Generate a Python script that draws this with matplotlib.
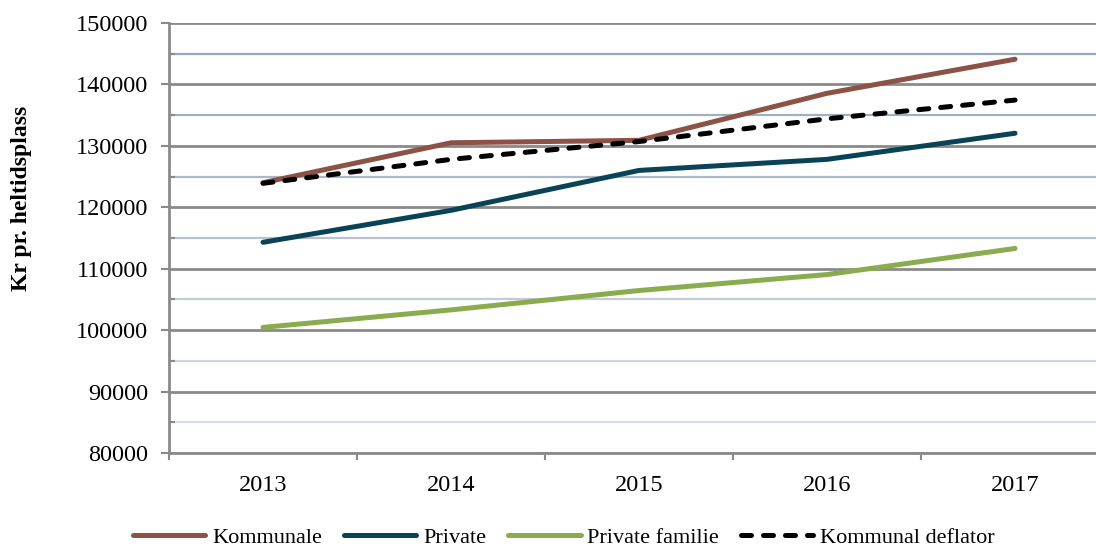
import matplotlib
matplotlib.use("Agg")
import matplotlib.pyplot as plt
import numpy as np
from matplotlib.colors import to_rgb
from matplotlib.ticker import MultipleLocator, FixedLocator, NullFormatter

plt.rcParams["font.family"] = ["Liberation Serif", "DejaVu Serif"]

years = ["2013", "2014", "2015", "2016", "2017"]
kommunale = [124000, 130500, 130900, 138550, 144100]
private = [114300, 119500, 126000, 127800, 132050]
private_familie = [100450, 103300, 106450, 109050, 113300]
kommunal_deflator = [123900, 127800, 130700, 134400, 137450]

fig = plt.figure(figsize=(10.96, 5.47), dpi=100)
ax = fig.add_axes([0.1542, 0.1718, 0.8577, 0.7862])

x = np.arange(len(years))
lw = 3.6
ax.plot(x, kommunale, color="#8c5246", lw=lw, solid_capstyle="round", label="Kommunale", zorder=3)
ax.plot(x, private, color="#0a4357", lw=lw, solid_capstyle="round", label="Private", zorder=3)
ax.plot(x, private_familie, color="#8bab4f", lw=lw, solid_capstyle="round", label="Private familie", zorder=3)
ax.plot(x, kommunal_deflator, color="black", lw=lw, dashes=(2.0, 2.4), dash_capstyle="round",
        label="Kommunal deflator", zorder=4)

ax.set_xlim(-0.5, 4.5)
ax.set_ylim(80000, 150000)

# y axis: major grid every 10000, minor every 5000
ax.yaxis.set_major_locator(MultipleLocator(10000))
ax.yaxis.set_minor_locator(MultipleLocator(5000))
ax.grid(True, axis="y", which="major", color="#8a8a8a", lw=2.0, zorder=1)
ax.grid(True, axis="y", which="minor", lw=1.6, zorder=1)
top_c = np.array(to_rgb("#8ea2b4"))
bot_c = np.array(to_rgb("#dde3e8"))
minor_vals = ax.yaxis.get_minorticklocs()
for tick, v in zip(ax.yaxis.get_minor_ticks(), minor_vals):
    t = (v - 80000) / 70000
    tick.gridline.set_color(tuple(bot_c + (top_c - bot_c) * t))

ax.tick_params(axis="y", which="major", direction="out", length=6, width=1.5, color="#8a8a8a",
               pad=9, labelsize=17.5)
ax.tick_params(axis="y", which="minor", direction="in", length=4, width=1.5, color="#8a8a8a")

# x axis: ticks on category boundaries, labels in centers
ax.xaxis.set_major_locator(FixedLocator(np.arange(-0.5, 5.0, 1.0)))
ax.xaxis.set_major_formatter(NullFormatter())
ax.set_xticks(x, years, minor=True)
ax.tick_params(axis="x", which="major", direction="out", length=5, width=1.5, color="#8a8a8a")
ax.tick_params(axis="x", which="minor", length=0, pad=16, labelsize=17.5)

for s in ["top", "right"]:
    ax.spines[s].set_visible(False)
for s in ["left", "bottom"]:
    ax.spines[s].set_color("#8a8a8a")
    ax.spines[s].set_linewidth(2.0)

ax.set_ylabel("Kr pr. heltidsplass", fontsize=17, fontweight="bold")
ax.yaxis.set_label_coords(-0.146, 0.593)

fig.legend(loc="center", bbox_to_anchor=(0.5146, 0.017), ncol=4, frameon=False, fontsize=16,
           handlelength=3.25, handletextpad=0.3, columnspacing=1.0, borderaxespad=0)

fig.savefig("out.png", dpi=100)
